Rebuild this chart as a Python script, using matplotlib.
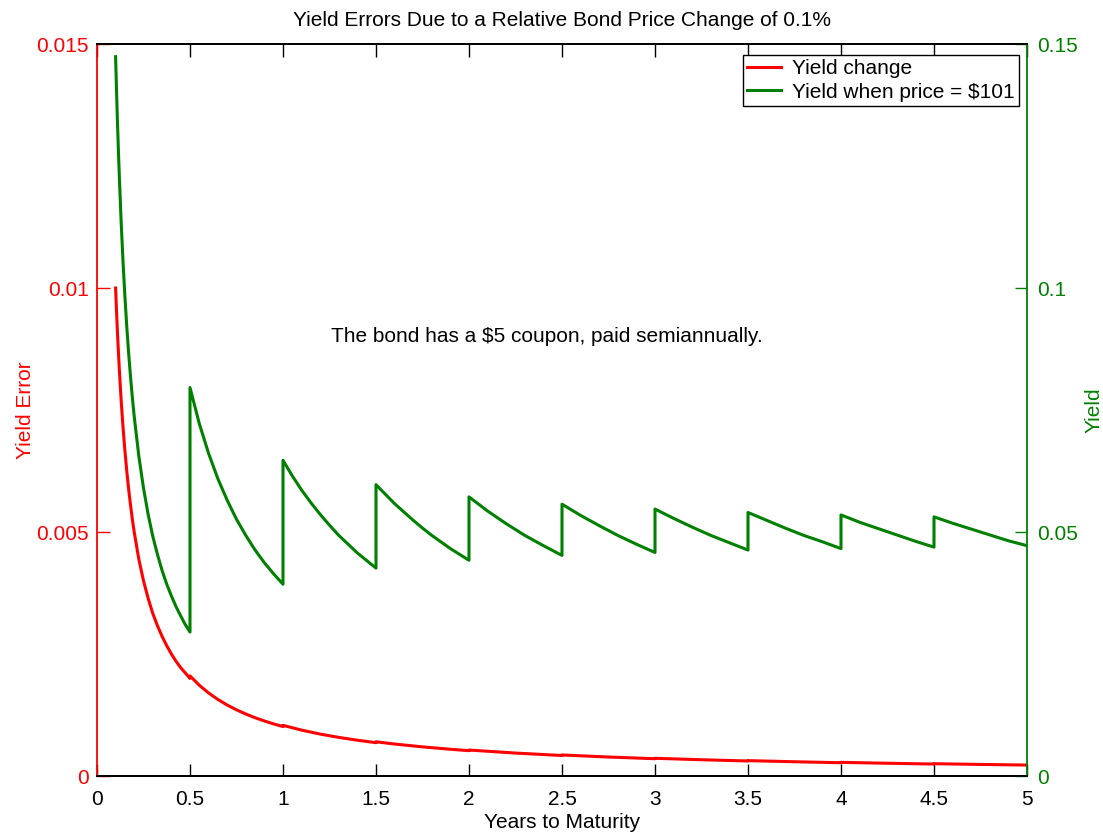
import matplotlib
matplotlib.use("Agg")
import matplotlib.pyplot as plt

plt.rcParams['font.family'] = ['Liberation Sans', 'DejaVu Sans']

# years to maturity and yield (continuous) when the bond price is $101
green_t = [0.1, 0.105, 0.11, 0.115, 0.12, 0.13, 0.14, 0.15, 0.16, 0.17, 0.18, 0.19, 0.2, 0.225, 0.25,
           0.275, 0.3, 0.325, 0.35, 0.375, 0.4, 0.425, 0.45, 0.475, 0.5,
           0.5, 0.55, 0.6, 0.65, 0.7, 0.75, 0.8, 0.85, 0.9, 0.95, 1.0,
           1.0, 1.05, 1.1, 1.15, 1.2, 1.25, 1.3, 1.4, 1.5,
           1.5, 1.6, 1.7, 1.75, 1.8, 1.9, 2.0,
           2.0, 2.1, 2.2, 2.3, 2.4, 2.5,
           2.5, 2.6, 2.7, 2.8, 2.9, 3.0,
           3.0, 3.1, 3.2, 3.3, 3.4, 3.5,
           3.5, 3.6, 3.7, 3.8, 3.9, 4.0,
           4.0, 4.1, 4.2, 4.3, 4.4, 4.5,
           4.5, 4.6, 4.7, 4.8, 4.9, 5.0]
green_y = [0.1474, 0.1404, 0.1340, 0.1282, 0.1229, 0.1134, 0.1053, 0.0983, 0.0921, 0.0867, 0.0819, 0.0776, 0.0737, 0.0655, 0.0590,
           0.0536, 0.0491, 0.0454, 0.0421, 0.0393, 0.0369, 0.0347, 0.0328, 0.0310, 0.0295,
           0.0796, 0.0722, 0.0661, 0.0609, 0.0565, 0.0526, 0.0493, 0.0463, 0.0437, 0.0414, 0.0393,
           0.0647, 0.0615, 0.0586, 0.0560, 0.0536, 0.0514, 0.0493, 0.0457, 0.0426,
           0.0597, 0.0558, 0.0524, 0.0508, 0.0493, 0.0466, 0.0442,
           0.0572, 0.0543, 0.0517, 0.0493, 0.0472, 0.0452,
           0.0557, 0.0534, 0.0513, 0.0493, 0.0475, 0.0458,
           0.0547, 0.0528, 0.0510, 0.0493, 0.0478, 0.0463,
           0.0540, 0.0524, 0.0508, 0.0493, 0.0480, 0.0466,
           0.0535, 0.0520, 0.0507, 0.0494, 0.0481, 0.0469,
           0.0531, 0.0518, 0.0506, 0.0494, 0.0482, 0.0472]

# yield change caused by a 0.1% relative price change
red_t = [0.1, 0.105, 0.11, 0.115, 0.12, 0.13, 0.14, 0.15, 0.16, 0.17, 0.18, 0.19, 0.2, 0.225, 0.25,
         0.275, 0.3, 0.325, 0.35, 0.375, 0.4, 0.425, 0.45, 0.475, 0.5,
         0.5, 0.55, 0.6, 0.65, 0.7, 0.75, 0.8, 0.85, 0.9, 0.95, 1.0,
         1.0, 1.1, 1.2, 1.3, 1.4, 1.5,
         1.5, 1.6, 1.75, 1.9, 2.0,
         2.0, 2.25, 2.5,
         2.5, 2.75, 3.0,
         3.0, 3.25, 3.5,
         3.5, 3.75, 4.0,
         4.0, 4.25, 4.5,
         4.5, 4.75, 5.0]
red_y = [0.01, 0.00952, 0.00909, 0.0087, 0.00833, 0.00769, 0.00714, 0.00667, 0.00625, 0.00588, 0.00556, 0.00526, 0.005, 0.00444, 0.004,
         0.00364, 0.00333, 0.00308, 0.00286, 0.00267, 0.0025, 0.00235, 0.00222, 0.00211, 0.002,
         0.002051, 0.00186, 0.001702, 0.001568, 0.001454, 0.001356, 0.00127, 0.001194, 0.001127, 0.001067, 0.001013,
         0.001038, 0.00094, 0.000859, 0.000791, 0.000733, 0.000683,
         0.000701, 0.000655, 0.000597, 0.000548, 0.000519,
         0.000532, 0.00047, 0.00042,
         0.000431, 0.000389, 0.000354,
         0.000363, 0.000333, 0.000308,
         0.000315, 0.000292, 0.000272,
         0.00028, 0.000261, 0.000245,
         0.000252, 0.000237, 0.000224]

x_ticks = [0, 0.5, 1, 1.5, 2, 2.5, 3, 3.5, 4, 4.5, 5]
x_labels = ['0', '0.5', '1', '1.5', '2', '2.5', '3', '3.5', '4', '4.5', '5']
left_ticks = [0, 0.005, 0.01, 0.015]
left_labels = ['0', '0.005', '0.01', '0.015']
right_ticks = [0, 0.05, 0.1, 0.15]
right_labels = ['0', '0.05', '0.1', '0.15']

red = '#ff0000'
green = '#008000'
fs = 15

fig = plt.figure(figsize=(11.03, 8.34), dpi=100)
ax = fig.add_axes([97 / 1103, 1 - 776 / 834, 930 / 1103, 732 / 834])
ax2 = ax.twinx()

l1, = ax.plot(red_t, red_y, color=red, lw=2.2, label='Yield change')
l2, = ax2.plot(green_t, green_y, color=green, lw=2.2, label='Yield when price = $101')

ax.set_xlim(0, 5)
ax.set_ylim(0, 0.015)
ax2.set_ylim(0, 0.15)

ax.set_xticks(x_ticks)
ax.set_xticklabels(x_labels, fontsize=fs)
ax.set_yticks(left_ticks)
ax.set_yticklabels(left_labels, fontsize=fs, color=red)
ax2.set_yticks(right_ticks)
ax2.set_yticklabels(right_labels, fontsize=fs, color=green)

ax.tick_params(axis='x', direction='in', length=9, width=1, top=True, pad=10)
ax.tick_params(axis='y', direction='in', length=9, width=1, colors=red, left=True, right=False, pad=6)
ax2.tick_params(axis='y', direction='in', length=9, width=1, colors=green, right=True, pad=7)

for a in (ax, ax2):
    for s in a.spines.values():
        s.set_linewidth(1.3)
ax.spines['left'].set_color(red)
ax.spines['right'].set_visible(False)
ax2.spines['left'].set_visible(False)
ax2.spines['right'].set_color(green)

ax.set_xlabel('Years to Maturity', fontsize=fs, labelpad=3)
ax.set_ylabel('Yield Error', fontsize=fs, color=red, labelpad=1)
ax2.set_ylabel('Yield', fontsize=fs, color=green, labelpad=5)
ax.set_title('Yield Errors Due to a Relative Bond Price Change of 0.1%', fontsize=fs, pad=13)

ax.text(1.26, 0.009, 'The bond has a $5 coupon, paid semiannually.', fontsize=fs, va='center', ha='left')

leg = ax2.legend([l1, l2], ['Yield change', 'Yield when price = $101'], loc='upper right',
                 bbox_to_anchor=(0.9914, 0.985), fontsize=fs, fancybox=False, framealpha=1,
                 edgecolor='black', handlelength=1.6, borderaxespad=0, borderpad=0.2,
                 labelspacing=0.22, handletextpad=0.55)
leg.get_frame().set_linewidth(1.0)

fig.savefig('out.png', dpi=100)
